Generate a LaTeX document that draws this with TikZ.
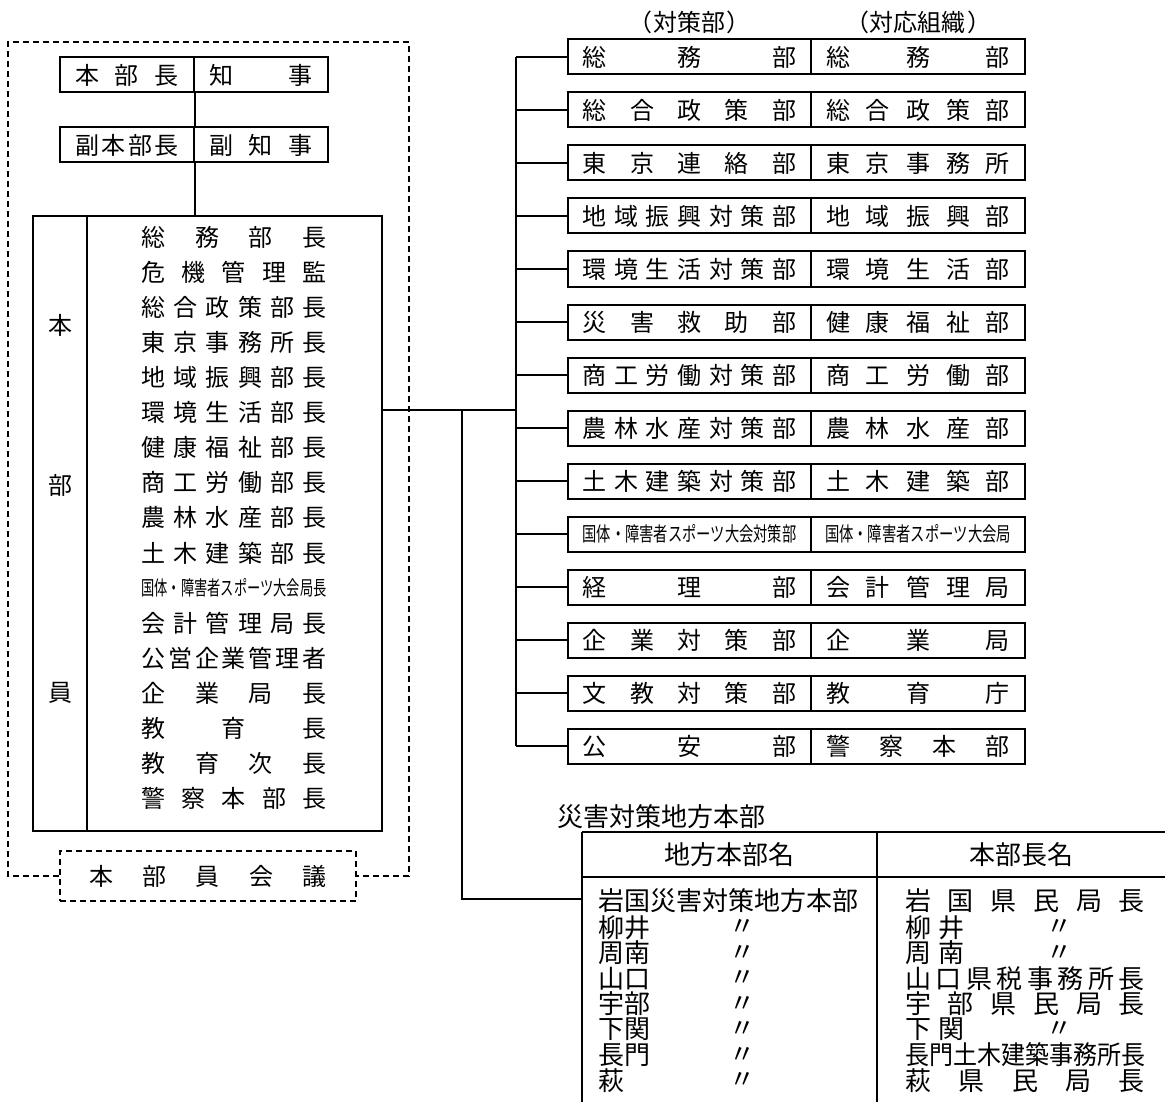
\documentclass[tikz,border=0pt]{standalone}
\usepackage{fontspec}
\usepackage{graphicx}
\setmainfont{Noto Sans CJK JP}
\def\sprEnd{}
\def\gobbleone#1{}
\def\sprA#1#2{#1\ifx\sprEnd#2\expandafter\gobbleone\else\hfill\fi\sprA#2}
\newcommand\spr[1]{\sprA#1\sprEnd}
\newcommand\jt[2]{\makebox[#1][s]{\spr{#2}}}
\def\jtxB#1#2{\jt{#2}{#1}}
\newcommand\jtx[2]{\expandafter\jtxB\expandafter{#2}{#1}}
\newcommand\cond[3]{{\fontsize{#2}{#2}\selectfont\resizebox{#1}{\height}{#3}}}
\newcommand\dit{〃}
\begin{document}
\begin{tikzpicture}[x=1pt,y=-1pt,line width=2pt,
  every node/.style={font=\fontsize{24}{26}\selectfont,inner sep=0pt},
  cell/.style={draw,minimum height=35pt,inner sep=0pt},
  dsh/.style={dash pattern=on 6pt off 4pt,line width=1.8pt},
  tb/.style={font=\fontsize{26}{26}\selectfont}]
\useasboundingbox (0,0) rectangle (1165,1102);

% ---- top boxes
\node[cell,minimum width=134pt] (c1a) at (127,75) {\jt{104pt}{本部長}};
\node[cell,minimum width=134pt] (c1b) at (261,75) {\jt{104pt}{知事}};
\node[cell,minimum width=134pt] (c2a) at (127,145) {\jt{104pt}{副本部長}};
\node[cell,minimum width=134pt] (c2b) at (261,145) {\jt{104pt}{副知事}};

% ---- members box
\node[draw,minimum width=349pt,minimum height=615pt] (inner) at (207.5,523.5) {};
\coordinate (dv) at (87,0);
\draw (inner.north -| dv) -- (inner.south -| dv);
\draw (c1a.south east) -- (c2a.north east);
\draw (c2a.south east) -- (inner.north -| c2a.south east);

\node (lb1) at (60,325) {本};
\node (lb2) at (60,485) {部};
\node (lb3) at (60,693) {員};

\node (m1)  at (234,237.0) {\jt{185pt}{総務部長}};
\node (m2)  at (234,272.1) {\jt{185pt}{危機管理監}};
\node (m3)  at (234,307.2) {\jt{185pt}{総合政策部長}};
\node (m4)  at (234,342.3) {\jt{185pt}{東京事務所長}};
\node (m5)  at (234,377.4) {\jt{185pt}{地域振興部長}};
\node (m6)  at (234,412.5) {\jt{185pt}{環境生活部長}};
\node (m7)  at (234,447.6) {\jt{185pt}{健康福祉部長}};
\node (m8)  at (234,482.7) {\jt{185pt}{商工労働部長}};
\node (m9)  at (234,517.8) {\jt{185pt}{農林水産部長}};
\node (m10) at (234,552.9) {\jt{185pt}{土木建築部長}};
\node (m11) at (234,588.0) {\cond{185pt}{20pt}{国体・障害者スポーツ大会局長}};
\node (m12) at (234,623.1) {\jt{185pt}{会計管理局長}};
\node (m13) at (234,658.2) {\jt{185pt}{公営企業管理者}};
\node (m14) at (234,693.3) {\jt{185pt}{企業局長}};
\node (m15) at (234,728.4) {\jt{185pt}{教育長}};
\node (m16) at (234,763.5) {\jt{185pt}{教育次長}};
\node (m17) at (234,798.6) {\jt{185pt}{警察本部長}};

% ---- meeting + dashed frame
\node[draw,dsh,minimum width=296pt,minimum height=50pt] (meet) at (208,876) {\jt{238pt}{本部員会議}};
\draw[dsh] (meet.west) -- (8,876) -- (8,42) -- (409,42) -- (409,876) -- (meet.east);

% ---- right boxes
\node (t1) at (689.5,22) {（\hspace{1pt}対策部\hspace{1pt}）};
\node (t2) at (918,22) {（\hspace{1pt}対応組織\hspace{1pt}）};
\coordinate (bj) at (516,410);
\foreach \k/\a/\b in {1/総務部/総務部,2/総合政策部/総合政策部,3/東京連絡部/東京事務所,
  4/地域振興対策部/地域振興部,5/環境生活対策部/環境生活部,6/災害救助部/健康福祉部,
  7/商工労働対策部/商工労働部,8/農林水産対策部/農林水産部,9/土木建築対策部/土木建築部,
  11/経理部/会計管理局,12/企業対策部/企業局,13/文教対策部/教育庁,14/公安部/警察本部}{
  \node[cell,minimum width=243pt] (L\k) at (689.5,{57+(\k-1)*53}) {\jtx{214pt}{\a}};
  \node[cell,minimum width=214pt] (R\k) at (918,{57+(\k-1)*53}) {\jtx{184pt}{\b}};
}
\node[cell,minimum width=243pt] (L10) at (689.5,534) {\cond{214pt}{20pt}{国体・障害者スポーツ大会対策部}};
\node[cell,minimum width=214pt] (R10) at (918,534) {\cond{186pt}{20pt}{国体・障害者スポーツ大会局}};

\draw (L1.west -| bj) -- (L14.west -| bj);
\foreach \k in {1,...,14}{\draw (L\k.west) -- (L\k.west -| bj);}
\draw (inner.east |- bj) -- (bj);

% ---- regional HQ table
\node[tb] (ttl) at (661.5,817) {災害対策地方本部};
\coordinate (tnw) at (582,832);
\coordinate (tdv) at (877,832);
\draw (tnw) -- ++(600,0);
\draw (tnw) -- ++(0,280);
\draw (tdv) -- ++(0,280);
\draw (582,877) -- (1180,877);
\node[tb] (h1) at (729.5,854.5) {地方本部名};
\node[tb] (h2) at (1021,854.5) {本部長名};

\coordinate (vj) at (462,410);
\coordinate (tj) at (582,899);
\draw (vj) -- (vj |- tj) -- (tj);

\node[tb,anchor=west] (n0) at (597,901) {岩国災害対策地方本部};
\foreach \i/\y/\n in {1/927.5/柳井,2/953/周南,3/978.5/山口,4/1004/宇部,5/1029.5/下関,6/1055/長門,7/1080.5/萩}{
  \node[tb,anchor=west] (n\i) at (597,\y) {\n};
  \node[tb] (d\i) at (742,\y) {\dit};
}

\node[tb,anchor=west] (k0) at (904,901) {\jt{240pt}{岩国県民局長}};
\node[tb,anchor=west] (k1) at (904,927.5) {柳\hspace{7pt}井};
\node[tb] (e1) at (1059,927.5) {\dit};
\node[tb,anchor=west] (k2) at (904,953) {周\hspace{7pt}南};
\node[tb] (e2) at (1059,953) {\dit};
\node[tb,anchor=west] (k3) at (904,978.5) {\jt{240pt}{山口県税事務所長}};
\node[tb,anchor=west] (k4) at (904,1004) {\jt{240pt}{宇部県民局長}};
\node[tb,anchor=west] (k5) at (904,1029.5) {下\hspace{7pt}関};
\node[tb] (e5) at (1059,1029.5) {\dit};
\node[tb,anchor=west] (k6) at (904,1055) {\resizebox{240pt}{\height}{長門土木建築事務所長}};
\node[tb,anchor=west] (k7) at (904,1080.5) {\jt{240pt}{萩県民局長}};
\end{tikzpicture}
\end{document}
